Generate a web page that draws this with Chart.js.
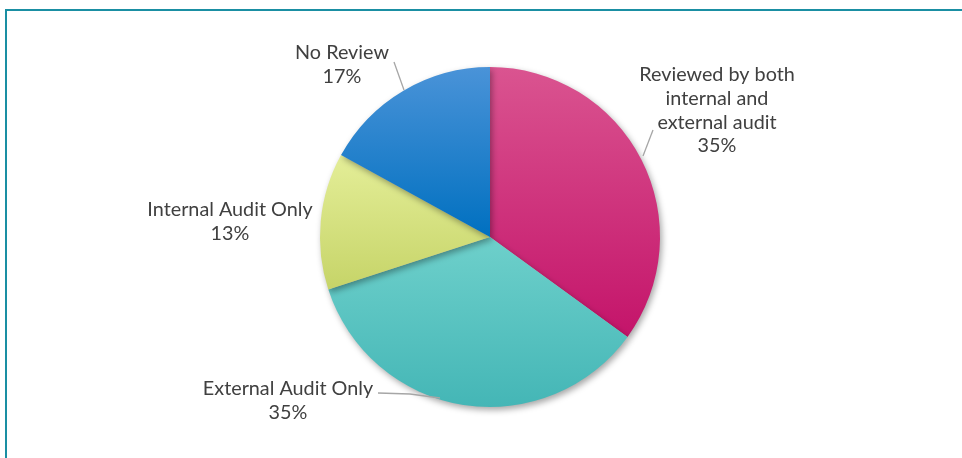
<!DOCTYPE html>
<html><head><meta charset="utf-8">
<script src="https://cdn.jsdelivr.net/npm/chart.js@4"></script>
<style>
html,body{margin:0;padding:0;background:#fff;overflow:hidden}
#wrap{position:relative;width:962px;height:458px}
#frame{position:absolute;left:5px;top:9px;width:1000px;height:500px;border-left:2px solid #1a8fa3;border-top:2px solid #1a8fa3;box-sizing:border-box}
canvas{position:absolute;left:0;top:0}
</style></head><body>
<div id="wrap"><div id="frame"></div><canvas id="c" width="962" height="458"></canvas></div>
<script>
const categories = ["Reviewed by both internal and external audit", "External Audit Only", "Internal Audit Only", "No Review"];
const values = [35, 35, 13, 17];
const labelLines = [["Reviewed by both","internal and","external audit"],["External Audit Only"],["Internal Audit Only"],["No Review"]];
const pctLabels = ["35%","35%","13%","17%"];

const gradStops = [["#da5490","#c4146a"],["#6ed0cb","#44b6b6"],["#e4ee98","#c6d468"],["#4a93d8","#0070c0"]];
const labelPos = [
  {x:717,y:75, line:[[653,130],[643,156]]},
  {x:288,y:389,line:[[378,393],[410,394],[440,398]]},
  {x:230,y:210,line:null},
  {x:342,y:53, line:[[394,62],[404,90]]}
];

function sliceYRange(chart, idx){
  const a=chart.chartArea; const cy=(a.top+a.bottom)/2; const r=Math.min(a.right-a.left,a.bottom-a.top)/2;
  const tot=values.reduce((s,v)=>s+v,0);
  let s=-Math.PI/2; for(let i=0;i<idx;i++) s+=values[i]/tot*2*Math.PI;
  const e=s+values[idx]/tot*2*Math.PI;
  const ys=[cy, cy+r*Math.sin(s), cy+r*Math.sin(e)];
  [-Math.PI/2, Math.PI/2, 3*Math.PI/2].forEach(t=>{ if(t>=s&&t<=e) ys.push(cy+r*Math.sin(t)); });
  return [Math.min(...ys), Math.max(...ys)];
}

const shadowPlugin = {
  id:'shadow',
  beforeDatasetDraw(chart){
    const ctx=chart.ctx; ctx.save();
    ctx.shadowColor='rgba(0,0,0,0.35)'; ctx.shadowBlur=6; ctx.shadowOffsetX=2; ctx.shadowOffsetY=3;
  },
  afterDatasetDraw(chart){ chart.ctx.restore(); }
};
const labelPlugin = {
  id:'labels',
  afterDraw(chart){
    const ctx=chart.ctx; ctx.save();
    ctx.font='19.8px Lato'; ctx.fillStyle='#404040'; ctx.textAlign='center'; ctx.textBaseline='middle';
    labelPos.forEach((p,i)=>{
      const lines=[...labelLines[i], pctLabels[i]];
      lines.forEach((t,k)=>ctx.fillText(t,p.x,p.y+k*23.7));
      if(p.line){
        ctx.strokeStyle='#a6a6a6'; ctx.lineWidth=1.3; ctx.beginPath();
        p.line.forEach((pt,k)=>k?ctx.lineTo(pt[0],pt[1]):ctx.moveTo(pt[0],pt[1]));
        ctx.stroke();
      }
    });
    ctx.restore();
  }
};

new Chart(document.getElementById('c'),{
  type:'pie',
  data:{labels:categories,datasets:[{data:values,borderWidth:0,
    backgroundColor(ctx){
      const ch=ctx.chart; const a=ch.chartArea; if(!a) return gradStops[ctx.dataIndex][0];
      const [y0,y1]=sliceYRange(ch, ctx.dataIndex);
      const g=ch.ctx.createLinearGradient(0,y0,0,y1);
      const s=gradStops[ctx.dataIndex]; g.addColorStop(0,s[0]); g.addColorStop(1,s[1]); return g;
    }}]},
  options:{responsive:false,animation:false,
    layout:{padding:{left:320,right:302,top:67,bottom:51}},
    plugins:{legend:{display:false},tooltip:{enabled:false}}},
  plugins:[shadowPlugin,labelPlugin]
});
</script></body></html>
